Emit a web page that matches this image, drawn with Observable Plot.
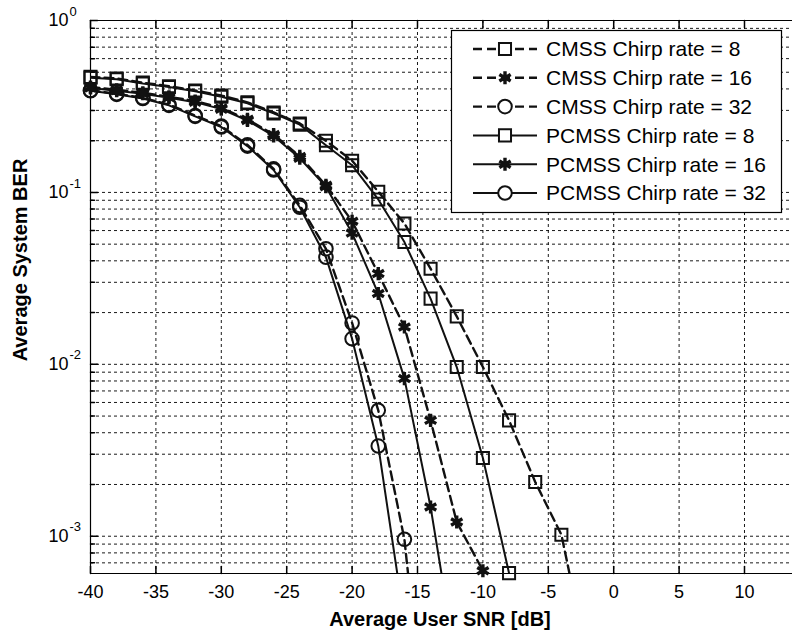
<!DOCTYPE html>
<html><head><meta charset="utf-8">
<script src="https://cdn.jsdelivr.net/npm/d3@7"></script>
<script src="https://cdn.jsdelivr.net/npm/@observablehq/plot@0.6"></script>
<style>body{margin:0;background:#fff} svg{display:block}</style>
</head><body><div id="chart"></div>
<script>
// SNR grid (dB), markers every 2 dB
const snr = [-40,-38,-36,-34,-32,-30,-28,-26,-24,-22,-20,-18,-16,-14,-12,-10,-8,-6,-4,-2];

// Average system BER per series (index-aligned with snr)
const cmss8   = [0.47,0.46,0.435,0.415,0.392,0.366,0.334,0.292,0.252,0.200,0.153,0.101,0.066,0.036,0.019,0.00964,0.00472,0.00207,0.00102,0.000192];
const cmss16  = [0.41,0.395,0.38,0.36,0.34,0.31,0.266,0.217,0.162,0.11,0.068,0.0337,0.0165,0.00472,0.00121,0.00063];
const cmss32  = [0.392,0.375,0.355,0.324,0.28,0.243,0.189,0.137,0.084,0.047,0.0174,0.0054,0.00096,0.000035];
const pcmss8  = [0.465,0.455,0.43,0.41,0.388,0.36,0.33,0.288,0.248,0.188,0.144,0.091,0.0514,0.0241,0.00964,0.00285,0.00061];
const pcmss16 = [0.405,0.39,0.375,0.355,0.335,0.305,0.262,0.213,0.158,0.108,0.058,0.0258,0.00826,0.00148,0.000174];
const pcmss32 = [0.39,0.372,0.352,0.321,0.277,0.24,0.186,0.135,0.082,0.042,0.0141,0.00335,0.00032];

const seriesNames = ["CMSS Chirp rate = 8","CMSS Chirp rate = 16","CMSS Chirp rate = 32","PCMSS Chirp rate = 8","PCMSS Chirp rate = 16","PCMSS Chirp rate = 32"];
const seriesValues = [cmss8, cmss16, cmss32, pcmss8, pcmss16, pcmss32];
const seriesSymbols = ["square","asterisk","circle","square","asterisk","circle"];
const seriesDashed = [true,true,true,false,false,false];

const xTicks = [-40,-35,-30,-25,-20,-15,-10,-5,0,5,10];
const yMajor = [1e-3,1e-2,1e-1,1];
const xDomain = [-40, 13.67];
const yDomain = [6.07e-4, 1];
const xTitle = "Average User SNR [dB]";
const yTitle = "Average System BER";

const yMinor = [];
for (const d of [1e-4,1e-3,1e-2,1e-1]) for (let k = 2; k <= 9; k++) { const v = k*d; if (v > yDomain[0] && v < 1) yMinor.push(v); }

const rows = seriesNames.flatMap((name, i) => seriesValues[i].map((v, j) => ({
  series: name, snr: snr[j], ber: v, symbol: seriesSymbols[i], dashed: seriesDashed[i]
})));
const inRange = rows.filter(d => d.ber >= yDomain[0]*0.99);

const tickShape = {draw(ctx, l) { ctx.moveTo(0, 0); ctx.lineTo(0, -l); }};
const gridStyle = {stroke: "#000", strokeWidth: 1, strokeDasharray: "3,3", strokeOpacity: 0.9};
const FONT = "'Liberation Sans', Arial, sans-serif";

const chart = Plot.plot({
  width: 792, height: 631,
  marginLeft: 90, marginTop: 20, marginBottom: 58, marginRight: 0,
  style: {fontFamily: FONT, color: "#000", background: "#fff"},
  x: {domain: xDomain},
  y: {type: "log", domain: yDomain, axis: null},
  marks: [
    // grid
    Plot.ruleX(xTicks.filter(d => d > -40), {x: d => d, ...gridStyle}),
    Plot.ruleY([...yMinor, ...yMajor.filter(d => d < 1)], {y: d => d, ...gridStyle}),
    // frame
    Plot.ruleX([xDomain[0]], {x: d => d, stroke: "#000", strokeWidth: 1.2}),
    Plot.ruleY([yDomain[0], 1], {y: d => d, stroke: "#000", strokeWidth: 1.2}),
    // inward ticks
    Plot.vector(xTicks, {x: d => d, frameAnchor: "bottom", length: 7, anchor: "start", shape: tickShape, stroke: "#000"}),
    Plot.vector(xTicks, {x: d => d, frameAnchor: "top", length: 7, rotate: 180, anchor: "start", shape: tickShape, stroke: "#000"}),
    Plot.vector(yMajor, {y: d => d, frameAnchor: "left", length: 7, rotate: 90, anchor: "start", shape: tickShape, stroke: "#000"}),
    Plot.vector(yMinor, {y: d => d, frameAnchor: "left", length: 4, rotate: 90, anchor: "start", shape: tickShape, stroke: "#000"}),
    // tick labels
    Plot.axisX({ticks: xTicks, tickSize: 0, tickPadding: 12, fontSize: 18, label: null, tickFormat: d => String(d)}),
    Plot.text(yMajor, {y: d => d, frameAnchor: "left", text: () => "10", textAnchor: "end", dx: -22, fontSize: 18}),
    Plot.text(yMajor, {y: d => d, frameAnchor: "left", text: d => String(Math.round(Math.log10(d))), textAnchor: "start", dx: -21, dy: -9, fontSize: 13}),
    // curves
    Plot.line(rows.filter(d => d.dashed), {x: "snr", y: "ber", z: "series", stroke: "#111", strokeWidth: 2.4, strokeDasharray: "9,5", clip: true}),
    Plot.line(rows.filter(d => !d.dashed), {x: "snr", y: "ber", z: "series", stroke: "#111", strokeWidth: 2, clip: true}),
    Plot.dot(inRange.filter(d => d.symbol !== "asterisk"), {x: "snr", y: "ber", symbol: "symbol", r: 6.8, stroke: "#111", strokeWidth: 2, fill: "none"}),
    Plot.dot(inRange.filter(d => d.symbol === "asterisk"), {x: "snr", y: "ber", symbol: "asterisk", r: 6.2, stroke: "#111", strokeWidth: 3.4, fill: "none"})
  ]
});

const svg = d3.select(chart);
// axis titles
svg.append("text").attr("x", 440).attr("y", 619).attr("dy", "0.35em")
  .attr("text-anchor", "middle").attr("font-family", FONT).attr("font-size", 20).attr("font-weight", "bold").text(xTitle);
svg.append("text").attr("transform", "translate(20,260) rotate(-90)").attr("dy", "0.35em")
  .attr("text-anchor", "middle").attr("font-family", FONT).attr("font-size", 20).attr("font-weight", "bold").text(yTitle);

// legend (built from the same series lists)
const lg = svg.append("g").attr("font-family", FONT).attr("text-anchor", "start");
lg.append("rect").attr("x", 451.5).attr("y", 30.5).attr("width", 330).attr("height", 182)
  .attr("fill", "#fff").attr("stroke", "#000").attr("stroke-width", 1.2);
const symPath = {square: d3.symbolSquare, asterisk: d3.symbolAsterisk, circle: d3.symbolCircle};
seriesNames.forEach((name, i) => {
  const yy = 49 + i * 28.8;
  lg.append("line").attr("x1", 473).attr("x2", 537).attr("y1", yy).attr("y2", yy)
    .attr("stroke", "#111").attr("stroke-width", seriesDashed[i] ? 2.4 : 2)
    .attr("stroke-dasharray", seriesDashed[i] ? "9,5" : null);
  const ast = seriesSymbols[i] === "asterisk";
  const r = ast ? 6.2 : 6.8;
  lg.append("path").attr("d", d3.symbol(symPath[seriesSymbols[i]], Math.PI * r * r)())
    .attr("transform", `translate(505,${yy})`).attr("fill", ast ? "none" : "#fff")
    .attr("stroke", "#111").attr("stroke-width", ast ? 3.4 : 2);
  lg.append("text").attr("x", 546).attr("y", yy).attr("dy", "0.35em").attr("font-size", 21).text(name);
});
document.getElementById("chart").appendChild(chart);
</script>
</body></html>
